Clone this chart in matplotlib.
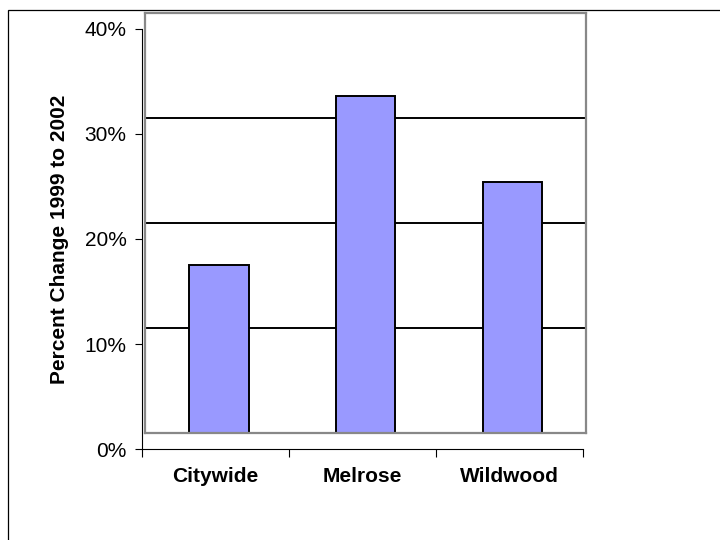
import matplotlib.pyplot as plt
from matplotlib.patches import Rectangle
from matplotlib.ticker import PercentFormatter

plt.rcParams['font.family'] = ['Liberation Sans', 'DejaVu Sans']

# data
neighborhoods = ['Citywide', 'Melrose', 'Wildwood']
pct_change = [0.160, 0.321, 0.239]
y_ticks = [0.0, 0.1, 0.2, 0.3, 0.4]
ylabel = 'Percent Change 1999 to 2002'

fig = plt.figure(figsize=(7.2, 5.4), dpi=100)

# outer chart border (runs off the right and bottom edges)
fig.patches.append(Rectangle((8 / 720, -0.1), 1.2, 1 - 10 / 540 + 0.1,
                             transform=fig.transFigure, fill=False,
                             edgecolor='black', linewidth=0.9))

# back wall, shifted up/right like Excel's 3D view
wall = fig.add_axes([145.3 / 720, 106.7 / 540, 0.6121, 0.7789])
wall.set_xlim(0, len(neighborhoods))
wall.set_ylim(0, 0.4)
for y in y_ticks[1:-1]:
    wall.axhline(y, color='black', linewidth=1.4, zorder=1)
xs = [i + 0.5 for i in range(len(neighborhoods))]
wall.bar(xs, pct_change, width=0.405, color='#9999FF',
         edgecolor='black', linewidth=1.4, zorder=2)
for s in wall.spines.values():
    s.set_color('#888888')
    s.set_linewidth(1.6)
wall.set_xticks([])
wall.set_yticks([])

# axes with ticks and labels
ax = fig.add_axes([142 / 720, 90.7 / 540, 0.6121, 0.7789])
ax.patch.set_visible(False)
ax.set_xlim(0, len(neighborhoods))
ax.set_ylim(0, 0.4)
ax.spines['top'].set_visible(False)
ax.spines['right'].set_visible(False)
ax.spines['left'].set_linewidth(0.8)
ax.spines['bottom'].set_linewidth(0.8)
ax.set_yticks(y_ticks)
ax.yaxis.set_major_formatter(PercentFormatter(1, decimals=0))
ax.tick_params(axis='y', length=5, width=0.8, labelsize=15, pad=6)
ax.set_xticks(range(len(neighborhoods) + 1))
ax.set_xticklabels([])
ax.set_xticks(xs, minor=True)
ax.set_xticklabels(neighborhoods, minor=True, fontweight='bold', fontsize=15)
ax.tick_params(axis='x', which='major', length=6, width=0.8)
ax.tick_params(axis='x', which='minor', length=0, pad=12.5)
ax.set_ylabel(ylabel, fontweight='bold', fontsize=15, labelpad=11)

fig.savefig('out.png', dpi=100)
